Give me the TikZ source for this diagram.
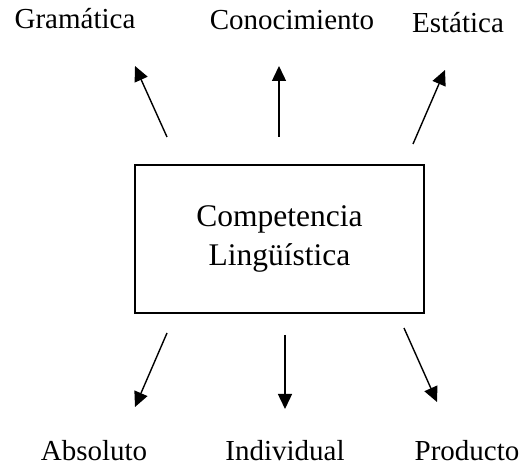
\documentclass[tikz,border=0pt]{standalone}
\usepackage{fontspec}
\setmainfont{Liberation Serif}
\usetikzlibrary{arrows.meta}
\begin{document}
\begin{tikzpicture}[x=1pt,y=1pt,
  lbl/.style={anchor=base,inner sep=0pt,font=\fontsize{29}{34}\selectfont},
  arr/.style={line width=1.4pt,-{Triangle[length=15pt,width=14pt]}},
  box/.style={draw,line width=1.5pt,minimum width=289pt,minimum height=148pt,align=center,font=\fontsize{31.5}{39}\selectfont}]
\useasboundingbox (0,0) rectangle (522,466);
\node[box] (c) at (279.5,227) {Competencia\\Lingüística};
\node[lbl] (g) at (75,437) {Gramática};
\node[lbl] (k) at (292,436) {Conocimiento};
\node[lbl] (e) at (458,433) {Estática};
\node[lbl] (a) at (94,6) {Absoluto};
\node[lbl] (i) at (285,6) {Individual};
\node[lbl] (p) at (467,6) {Producto};
\coordinate (t1) at (167,329); \coordinate (h1) at (135,400);
\coordinate (t2) at (279,329); \coordinate (h2) at (279,400);
\coordinate (t3) at (413,322); \coordinate (h3) at (445,396);
\coordinate (t4) at (167,133); \coordinate (h4) at (135,59);
\coordinate (t5) at (285,131); \coordinate (h5) at (285,57);
\coordinate (t6) at (404,138); \coordinate (h6) at (437,64);
\draw[arr] (t1) -- (h1);
\draw[arr] (t2) -- (h2);
\draw[arr] (t3) -- (h3);
\draw[arr] (t4) -- (h4);
\draw[arr] (t5) -- (h5);
\draw[arr] (t6) -- (h6);
\end{tikzpicture}
\end{document}
